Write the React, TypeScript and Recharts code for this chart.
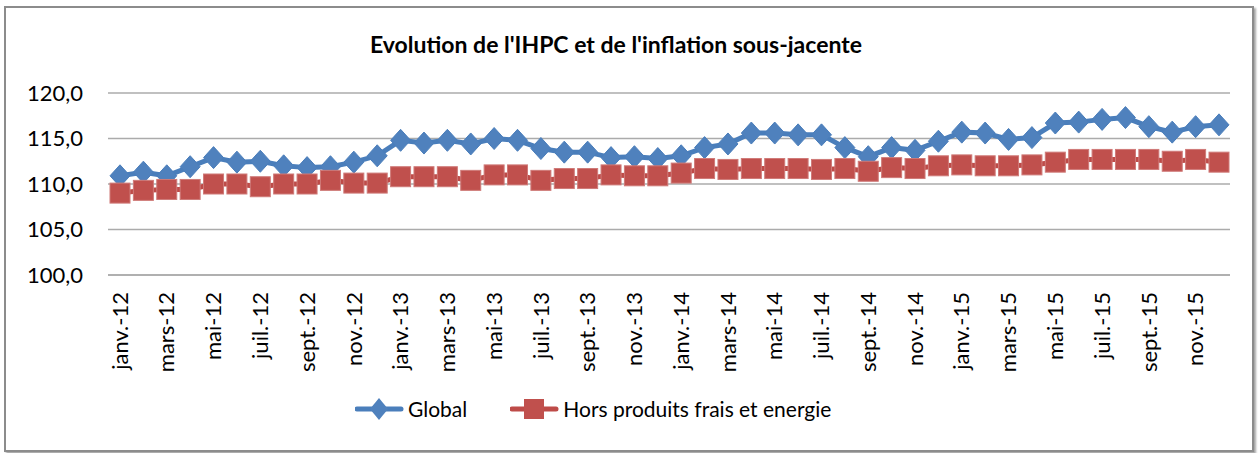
import React from 'react';
import { LineChart, Line, XAxis, YAxis, CartesianGrid } from 'recharts';

const months = [
  'janv.-12', 'févr.-12', 'mars-12', 'avr.-12', 'mai-12', 'juin-12', 'juil.-12', 'août-12', 'sept.-12', 'oct.-12', 'nov.-12', 'déc.-12',
  'janv.-13', 'févr.-13', 'mars-13', 'avr.-13', 'mai-13', 'juin-13', 'juil.-13', 'août-13', 'sept.-13', 'oct.-13', 'nov.-13', 'déc.-13',
  'janv.-14', 'févr.-14', 'mars-14', 'avr.-14', 'mai-14', 'juin-14', 'juil.-14', 'août-14', 'sept.-14', 'oct.-14', 'nov.-14', 'déc.-14',
  'janv.-15', 'févr.-15', 'mars-15', 'avr.-15', 'mai-15', 'juin-15', 'juil.-15', 'août-15', 'sept.-15', 'oct.-15', 'nov.-15', 'déc.-15',
];

const globalIndex = [
  110.9, 111.3, 110.9, 111.9, 112.9, 112.4, 112.5, 112.0, 111.8, 111.9, 112.4, 113.1,
  114.8, 114.5, 114.8, 114.4, 115.0, 114.8, 113.9, 113.5, 113.5, 112.9, 113.0, 112.8,
  113.1, 114.0, 114.4, 115.6, 115.6, 115.4, 115.4, 114.0, 113.0, 114.0, 113.7, 114.7,
  115.7, 115.6, 114.9, 115.1, 116.7, 116.8, 117.1, 117.3, 116.3, 115.7, 116.3, 116.5,
];

const coreIndex = [
  109.0, 109.3, 109.4, 109.4, 110.0, 110.0, 109.7, 110.0, 110.0, 110.4, 110.1, 110.1,
  110.8, 110.8, 110.8, 110.4, 111.0, 111.0, 110.4, 110.6, 110.6, 111.0, 110.9, 110.9,
  111.2, 111.7, 111.6, 111.7, 111.7, 111.7, 111.6, 111.7, 111.4, 111.8, 111.7, 112.0,
  112.1, 112.0, 112.0, 112.1, 112.4, 112.7, 112.7, 112.7, 112.7, 112.5, 112.7, 112.4,
];

const yTicks = [100, 105, 110, 115, 120];
const seriesNames = ['Global', 'Hors produits frais et energie'];

const data = months.map((m, i) => ({ month: m, global: globalIndex[i], core: coreIndex[i] }));

const FONT = 'Lato, Carlito, Calibri, sans-serif';
const BLUE_LINE = '#4A7EBB';
const BLUE = '#4F81BD';
const RED_LINE = '#BE4B48';
const RED = '#C0504D';

const Diamond = (props: any) => {
  const { cx, cy } = props;
  if (cx == null || cy == null) return null;
  return (
    <polygon
      points={`${cx},${cy - 11} ${cx + 10},${cy} ${cx},${cy + 11} ${cx - 10},${cy}`}
      fill={BLUE}
      stroke={BLUE_LINE}
      strokeWidth={1}
    />
  );
};

const Square = (props: any) => {
  const { cx, cy } = props;
  if (cx == null || cy == null) return null;
  return <rect x={cx - 10} y={cy - 10} width={20} height={20} fill={RED} stroke="#CF7a78" strokeWidth={1} />;
};

const XTick = ({ x, y, payload }: any) => (
  <text
    x={x}
    y={y + 15}
    transform={`rotate(-90, ${x}, ${y + 15})`}
    textAnchor="end"
    dy="0.35em"
    fontSize={22}
    fontFamily={FONT}
    fill="#000"
  >
    {payload.value}
  </text>
);

const YTick = ({ y, payload }: any) => (
  <text x={83} y={y} textAnchor="end" dy="0.35em" fontSize={22} fontFamily={FONT} fill="#000">
    {payload.value.toFixed(1).replace('.', ',')}
  </text>
);

export default function App() {
  return (
    <div style={{ position: 'fixed', left: 0, top: 0, width: 1260, height: 453, background: '#fff', fontFamily: FONT }}>
      <div
        style={{
          position: 'absolute',
          left: 4,
          top: 6,
          width: 1246,
          height: 442,
          border: '2px solid #8c8c8c',
          boxShadow: '2px 2px 2px rgba(0,0,0,0.35)',
        }}
      />
      <div
        style={{
          position: 'absolute',
          left: 0,
          top: 30,
          width: 1232,
          textAlign: 'center',
          fontSize: 23,
          fontWeight: 'bold',
          color: '#000',
        }}
      >
        Evolution de l'IHPC et de l'inflation sous-jacente
      </div>
      <div style={{ position: 'absolute', left: 0, top: 0 }}>
        <LineChart width={1260} height={453} data={data} margin={{ top: 93, right: 30, left: 0, bottom: 78 }}>
          <CartesianGrid vertical={false} stroke="#ababab" strokeWidth={1.5} />
          <XAxis
            dataKey="month"
            interval={1}
            height={100}
            padding={{ left: 12, right: 11 }}
            tick={<XTick />}
            tickLine={false}
            tickSize={0}
            axisLine={{ stroke: '#ababab', strokeWidth: 1.5 }}
          />
          <YAxis
            domain={[100, 120]}
            ticks={yTicks}
            width={108}
            tick={<YTick />}
            axisLine={false}
            tickLine={false}
          />
          <Line
            dataKey="global"
            name={seriesNames[0]}
            type="linear"
            stroke={BLUE_LINE}
            strokeWidth={5}
            dot={<Diamond />}
            activeDot={false}
            isAnimationActive={false}
          />
          <Line
            dataKey="core"
            name={seriesNames[1]}
            type="linear"
            stroke={RED_LINE}
            strokeWidth={5}
            dot={<Square />}
            activeDot={false}
            isAnimationActive={false}
          />
        </LineChart>
      </div>
      <div
        style={{
          position: 'absolute',
          left: 355,
          top: 396,
          display: 'flex',
          alignItems: 'center',
          fontSize: 21,
          color: '#000',
        }}
      >
        <svg width={50} height={24}>
          <line x1={2} y1={12} x2={46} y2={12} stroke={BLUE_LINE} strokeWidth={5} strokeLinecap="round" />
          <polygon points="24,1 33,12 24,23 15,12" fill={BLUE} />
        </svg>
        <span style={{ marginLeft: 3 }}>{seriesNames[0]}</span>
        <svg width={50} height={24} style={{ marginLeft: 43 }}>
          <line x1={2} y1={12} x2={46} y2={12} stroke={RED_LINE} strokeWidth={5} strokeLinecap="round" />
          <rect x={14} y={2} width={20} height={20} fill={RED} />
        </svg>
        <span style={{ marginLeft: 3 }}>{seriesNames[1]}</span>
      </div>
    </div>
  );
}
